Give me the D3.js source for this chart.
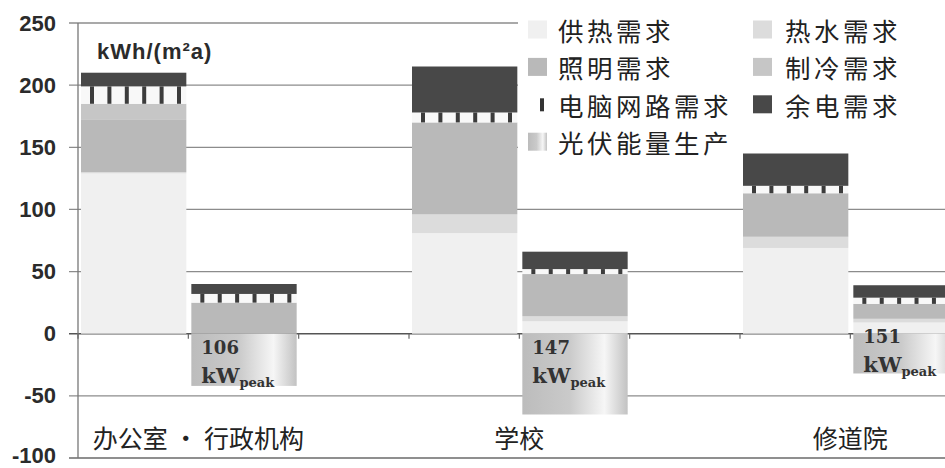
<!DOCTYPE html>
<html>
<head>
<meta charset="utf-8">
<script src="https://cdn.jsdelivr.net/npm/d3@7"></script>
<style>
  body { margin: 0; background: #fff; }
  svg { display: block; }
</style>
</head>
<body>
<div id="chart"></div>
<script>
// categories and the two bars per building (today / after renovation)
const categories = ['办公室 · 行政机构', '学校', '修道院'];
const barSlots = [0, 1];

// values in kWh/(m²a), one entry per bar: office a/b, school a/b, monastery a/b
const heating    = [129, 0, 81, 10, 69, 9];
const hotWater   = [1, 0, 15, 4, 9, 3];
const lighting   = [42, 25, 74, 34, 35, 12];
const cooling    = [13, 0, 0, 0, 0, 0];
const computers  = [14, 7, 8, 4, 6, 5];
const remaining  = [11, 8, 37, 14, 26, 10];
const pvProduced = [0, -42, 0, -65, 0, -32];
const pvPeakKw   = [null, 106, null, 147, null, 151];

const seriesNames = ['供热需求', '热水需求', '照明需求', '制冷需求', '电脑网路需求', '余电需求', '光伏能量生产'];
const yTicks = [-100, -50, 0, 50, 100, 150, 200, 250];

const keys = ['heating', 'hotWater', 'lighting', 'cooling', 'computers', 'remaining'];
const colors = {
  heating: '#f0f0f0',
  hotWater: '#dcdcdc',
  lighting: '#b9b9b9',
  cooling: '#c6c6c6',
  computers: '#f8f8f8',
  remaining: '#484848'
};

const rows = d3.range(heating.length).map(i => ({
  cat: categories[Math.floor(i / 2)],
  slot: barSlots[i % 2],
  heating: heating[i],
  hotWater: hotWater[i],
  lighting: lighting[i],
  cooling: cooling[i],
  computers: computers[i],
  remaining: remaining[i],
  pv: pvProduced[i],
  peak: pvPeakKw[i]
}));

const W = 945, H = 468;
const svg = d3.select('#chart').append('svg').attr('width', W).attr('height', H);

const y = d3.scaleLinear().domain([-100, 250]).range([458, 23]);
const x = d3.scaleBand().domain(categories).range([78, 78 + 3 * 331]).paddingInner(0);
const sub = d3.scaleBand().domain([0, 1, 2]).range([0, x.bandwidth()]);
const barX = d => x(d.cat) + sub(d.slot) + 3;
const barW = sub.bandwidth() - 5;

const defs = svg.append('defs');
const grad = defs.append('linearGradient').attr('id', 'pvGrad').attr('x1', 0).attr('x2', 1).attr('y1', 0).attr('y2', 0);
grad.append('stop').attr('offset', '0%').attr('stop-color', '#bcbcbc');
grad.append('stop').attr('offset', '45%').attr('stop-color', '#cacaca');
grad.append('stop').attr('offset', '78%').attr('stop-color', '#f6f6f6');
grad.append('stop').attr('offset', '100%').attr('stop-color', '#c2c2c2');

// gridlines + y ticks
svg.append('g').selectAll('line').data(yTicks).join('line')
  .attr('x1', 69).attr('x2', W)
  .attr('y1', d => y(d)).attr('y2', d => y(d))
  .attr('stroke', d => d === 0 ? '#555' : (d === -100 ? '#6a6a6a' : '#8c8c8c'))
  .attr('stroke-width', d => d === 0 ? 1.6 : 1.3);

svg.append('g').selectAll('text').data(yTicks).join('text')
  .attr('x', 56).attr('y', d => Math.min(y(d), H - 13))
  .attr('text-anchor', 'end').attr('dominant-baseline', 'central')
  .attr('font-family', 'Liberation Sans, Arial, sans-serif')
  .attr('font-weight', 'bold').attr('font-size', 22).attr('fill', '#2b2b2b')
  .text(d => d);

// legend background hides the gridlines behind it
svg.append('rect').attr('x', 518).attr('y', 0).attr('width', W - 518).attr('height', 150).attr('fill', '#fff');

// stacked bars
const stacked = d3.stack().keys(keys)(rows);
const barsG = svg.append('g');
stacked.forEach(layer => {
  barsG.append('g').selectAll('rect').data(layer).join('rect')
    .attr('x', d => barX(d.data))
    .attr('width', barW)
    .attr('y', d => y(d[1]))
    .attr('height', d => Math.max(0, y(d[0]) - y(d[1])))
    .attr('fill', colors[layer.key]);
});

// computer / network demand: little dark posts
const compLayer = stacked.find(l => l.key === 'computers');
compLayer.forEach(d => {
  if (d[1] - d[0] <= 0) return;
  const bx = barX(d.data);
  for (let k = 0; k < 6; k++) {
    barsG.append('rect')
      .attr('x', bx + 9 + k * 17.4)
      .attr('y', y(d[1]))
      .attr('width', 4)
      .attr('height', y(d[0]) - y(d[1]))
      .attr('fill', '#3c3c3c');
  }
});

// PV production (negative)
const pvRows = rows.filter(d => d.pv < 0);
barsG.append('g').selectAll('rect').data(pvRows).join('rect')
  .attr('x', barX).attr('width', barW)
  .attr('y', y(0)).attr('height', d => y(d.pv) - y(0))
  .attr('fill', 'url(#pvGrad)');

const pvLabels = barsG.append('g').selectAll('g').data(pvRows).join('g');
pvLabels.each(function(d) {
  const g = d3.select(this);
  const base = Math.min(y(0) + 49, y(d.pv) - 1);
  g.append('text')
    .attr('x', barX(d) + 10).attr('y', base - 29)
    .attr('font-family', 'DejaVu Serif, serif').attr('font-weight', 'bold')
    .attr('font-size', 18).attr('fill', '#333')
    .text(d.peak);
  const t = g.append('text')
    .attr('x', barX(d) + 10).attr('y', base)
    .attr('font-family', 'DejaVu Serif, serif').attr('font-weight', 'bold')
    .attr('font-size', 21).attr('fill', '#333');
  t.append('tspan').text('kW');
  t.append('tspan').attr('font-size', 13).attr('dy', 4).text('peak');
});

// axes lines
svg.append('line').attr('x1', 78).attr('x2', 78).attr('y1', y(250)).attr('y2', y(-100))
  .attr('stroke', '#777').attr('stroke-width', 1.3);
svg.append('g').selectAll('line').data(d3.range(9)).join('line')
  .attr('x1', k => 78 + k * sub.bandwidth()).attr('x2', k => 78 + k * sub.bandwidth())
  .attr('y1', y(0)).attr('y2', y(0) + 5)
  .attr('stroke', '#666').attr('stroke-width', 1.2);

// category labels
svg.append('g').selectAll('text').data(categories).join('text')
  .attr('x', d => x(d) + sub.bandwidth())
  .attr('dx', (d, i) => i === 0 ? 10 : 0)
  .attr('y', 437)
  .attr('text-anchor', 'middle').attr('dominant-baseline', 'central')
  .attr('font-family', 'Noto Sans CJK SC, sans-serif')
  .attr('font-size', 25).attr('fill', '#222')
  .text(d => d);

// unit label
svg.append('text').attr('x', 97).attr('y', 59)
  .attr('font-family', 'Liberation Sans, Arial, sans-serif')
  .attr('font-weight', 'bold').attr('font-size', 22).attr('letter-spacing', 1)
  .attr('fill', '#2b2b2b')
  .text('kWh/(m²a)');

// legend
const legendFills = [colors.heating, colors.hotWater, colors.lighting, colors.cooling, null, colors.remaining, 'url(#pvGrad)'];
const legend = svg.append('g').selectAll('g').data(seriesNames).join('g')
  .attr('transform', (d, i) => `translate(${i % 2 === 0 ? 528 : 753},${29.5 + Math.floor(i / 2) * 37.4})`);
legend.each(function(d, i) {
  const g = d3.select(this);
  if (i === 4) {
    g.append('rect').attr('x', 12).attr('y', -6).attr('width', 4).attr('height', 13).attr('fill', '#333');
  } else {
    g.append('rect').attr('x', 0).attr('y', -9).attr('width', 19).attr('height', 18)
      .attr('fill', legendFills[i]);
  }
  g.append('text').attr('x', i % 2 === 0 ? 30 : 32).attr('y', 0)
    .attr('dominant-baseline', 'central')
    .attr('font-family', 'Noto Sans CJK SC, sans-serif')
    .attr('font-size', 25.5).attr('letter-spacing', 3.5).attr('fill', '#222')
    .text(d);
});
</script>
</body>
</html>
